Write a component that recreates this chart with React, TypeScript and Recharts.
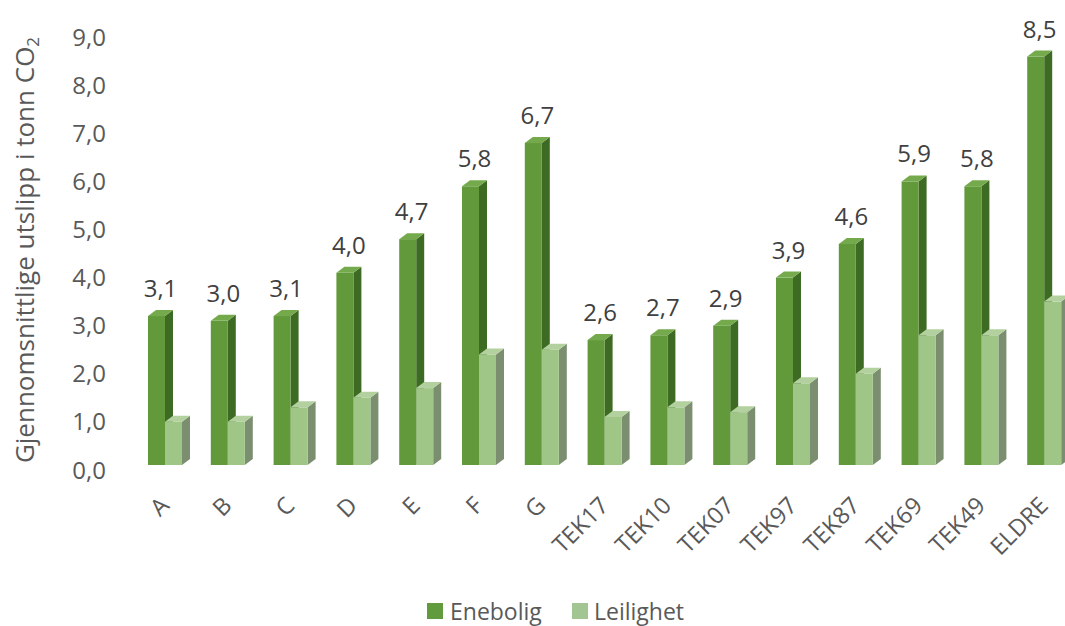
import React from 'react';
import { BarChart, Bar, XAxis, YAxis, Legend, LabelList, Label } from 'recharts';

const categories = ['A', 'B', 'C', 'D', 'E', 'F', 'G', 'TEK17', 'TEK10', 'TEK07', 'TEK97', 'TEK87', 'TEK69', 'TEK49', 'ELDRE'];
const enebolig = [3.1, 3.0, 3.1, 4.0, 4.7, 5.8, 6.7, 2.6, 2.7, 2.9, 3.9, 4.6, 5.9, 5.8, 8.5];
const leilighet = [0.9, 0.9, 1.2, 1.4, 1.6, 2.3, 2.4, 1.0, 1.2, 1.1, 1.7, 1.9, 2.7, 2.7, 3.4];
const yTicks = [0, 1, 2, 3, 4, 5, 6, 7, 8, 9];
const seriesNames = ['Enebolig', 'Leilighet'];

const data = categories.map((c, i) => ({ name: c, Enebolig: enebolig[i], Leilighet: leilighet[i] }));

const FONT = "'Open Sans', 'Noto Sans', sans-serif";
const TEXT = '#595959';

const DARK = { front: '#62993b', side: '#3e6b24', top: '#74aa4c' };
const LIGHT = { front: '#9fc687', side: '#7c8e70', top: '#b2d19e' };
const LEGEND_DARK = '#629b3d';
const LEGEND_LIGHT = '#a3c592';

const make3D = (col: { front: string; side: string; top: string }) => (props: any) => {
  const { x, y, width, height } = props;
  if (width == null || height == null || height <= 0) return <g />;
  const lift = 5;
  const d = 8;
  const dy = 6;
  const yy = y - lift;
  const fw = width - d;
  return (
    <g>
      <polygon
        points={`${x + fw},${yy} ${x + width},${yy - dy} ${x + width},${yy + height - dy} ${x + fw},${yy + height}`}
        fill={col.side}
      />
      <rect x={x} y={yy} width={fw} height={height} fill={col.front} />
      <polygon
        points={`${x},${yy} ${x + fw},${yy} ${x + width},${yy - dy} ${x + d},${yy - dy}`}
        fill={col.top}
      />
    </g>
  );
};

const XTick = (props: any) => {
  const { x, payload } = props;
  const ax = x + 1;
  const ay = 507;
  return (
    <text
      x={ax}
      y={ay}
      transform={`rotate(-45 ${ax} ${ay})`}
      textAnchor="end"
      fill={TEXT}
      fontSize={23.5}
      fontFamily={FONT}
    >
      {payload.value}
    </text>
  );
};

const YTitle = () => (
  <text
    x={0}
    y={0}
    transform="translate(34 250) rotate(-90)"
    textAnchor="middle"
    fill={TEXT}
    fontSize={26}
    fontFamily={FONT}
  >
    Gjennomsnittlige utslipp i tonn CO
    <tspan fontSize={17} dy={5}>2</tspan>
  </text>
);

const LegendContent = () => (
  <div style={{ position: 'relative', height: 30, fontFamily: FONT, fontSize: 23, color: TEXT }}>
    <div style={{ position: 'absolute', left: 427, top: 7, width: 16, height: 16, background: LEGEND_DARK }} />
    <div style={{ position: 'absolute', left: 450, top: 0, lineHeight: '30px' }}>{seriesNames[0]}</div>
    <div style={{ position: 'absolute', left: 572, top: 7, width: 16, height: 16, background: LEGEND_LIGHT }} />
    <div style={{ position: 'absolute', left: 594, top: 0, lineHeight: '30px' }}>{seriesNames[1]}</div>
  </div>
);

export default function App() {
  return (
    <div style={{ position: 'absolute', left: 0, top: 0, width: 1065, height: 626, overflow: 'hidden', background: '#fff' }}>
      <BarChart
        width={1082}
        height={626}
        data={data}
        margin={{ top: 37.5, right: 2, bottom: 0, left: 0 }}
        barSize={25}
        barGap={-8}
        barCategoryGap={0}
      >
        <XAxis
          dataKey="name"
          axisLine={false}
          tickLine={false}
          tickSize={0}
          tickMargin={0}
          height={126}
          interval={0}
          tick={<XTick />}
        />
        <YAxis
          domain={[0, 9]}
          ticks={yTicks}
          interval={0}
          axisLine={false}
          tickLine={false}
          tickSize={0}
          tickMargin={32}
          width={138}
          tick={{ fill: TEXT, fontSize: 24, fontFamily: FONT }}
          tickFormatter={(v: number) => v.toFixed(1).replace('.', ',')}
        >
          <Label content={<YTitle />} />
        </YAxis>
        <Legend verticalAlign="bottom" height={30} content={<LegendContent />} wrapperStyle={{ left: 0, width: 1065 }} />
        <Bar dataKey="Enebolig" isAnimationActive={false} shape={make3D(DARK)} fill={LEGEND_DARK}>
          <LabelList
            dataKey="Enebolig"
            position="top"
            offset={24}
            fill="#404040"
            fontSize={24}
            fontFamily={FONT}
            formatter={(v: any) => Number(v).toFixed(1).replace('.', ',')}
          />
        </Bar>
        <Bar dataKey="Leilighet" isAnimationActive={false} shape={make3D(LIGHT)} fill={LEGEND_LIGHT} />
      </BarChart>
    </div>
  );
}
